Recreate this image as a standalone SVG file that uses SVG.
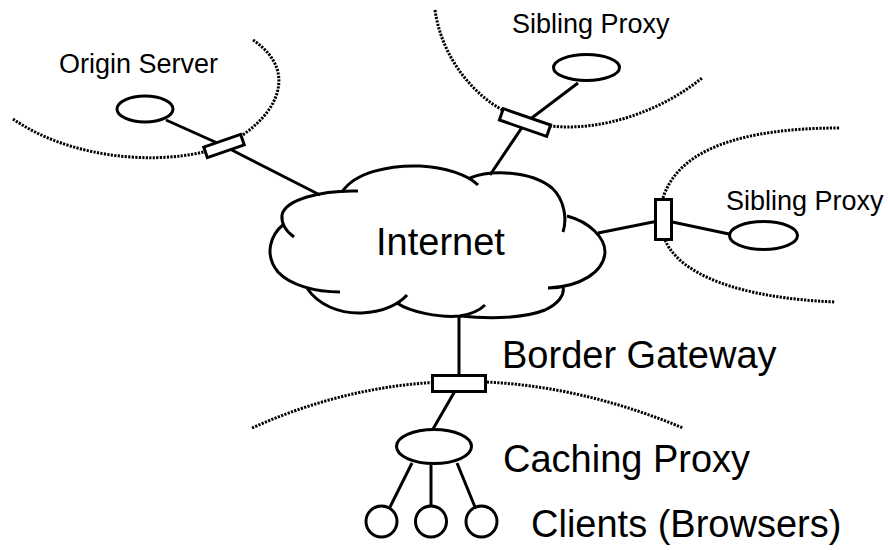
<svg xmlns="http://www.w3.org/2000/svg" width="888" height="550" viewBox="0 0 888 550">
<style>
.s{fill:none;stroke:#000;stroke-width:3;stroke-linecap:butt}
.n{fill:#fff;stroke:#000;stroke-width:3}
.d{fill:none;stroke:#000;stroke-width:3;stroke-dasharray:2.2 1.3}
.t{font-family:"Liberation Sans",Arial,sans-serif;fill:#000}
.sm{font-size:27px}
.lg{font-size:38px}
</style>
<rect width="888" height="550" fill="#fff"/>
<g id="boundaries">
<path class="d" d="M13,119 C80,165 180,165 224,145 C270,125 305,75 253,40"/>
<path class="d" d="M435,10 C442,60 478,105 525,120 C575,138 650,120 702,78"/>
<path class="d" d="M663,198 C678,150 740,128 840,128"/>
<path class="d" d="M665,240 C680,275 740,298 835,302"/>
<path class="d" d="M252,428 Q459,335 683,428"/>
</g>
<g id="connectors">
<polyline class="s" points="166,120 224,146 320,195"/>
<polyline class="s" points="578,83 525,123 490,175"/>
<polyline class="s" points="598,233 663,220 729,234"/>
<polyline class="s" points="459,317 459,384 433,429"/>
<line class="s" x1="412" y1="463" x2="390" y2="507"/>
<line class="s" x1="431" y1="465" x2="431" y2="506"/>
<line class="s" x1="457" y1="463" x2="475" y2="507"/>
</g>
<g id="internet">
<path class="s" d="M358,191 C320,190 285,200 282,215 C281,225 287,232 294,237"/>
<path class="s" d="M284,224 C270,235 264,255 278,272 C290,285 315,292 340,292"/>
<path class="s" d="M307,288 C318,305 340,314 362,313 C385,312 400,303 407,295"/>
<path class="s" d="M397,303 C410,312 440,318 460,316 C472,314 480,310 485,305"/>
<path class="s" d="M460,316 C480,318 520,320 545,310 C558,304 565,295 563,287"/>
<path class="s" d="M567,216 C590,222 605,238 605,252 C604,272 580,287 548,288"/>
<path class="s" d="M470,178 C490,170 530,170 552,188 C565,200 567,220 563,232"/>
<path class="s" d="M342,192 C355,172 390,165 420,166 C445,167 468,175 478,185"/>
<text class="t lg" x="376" y="255">Internet</text>
</g>
<g id="origin-server">
<ellipse class="n" cx="145" cy="109" rx="28" ry="13"/>
<rect class="n" x="-19.5" y="-5.5" width="39" height="11" transform="translate(224,146) rotate(-19)"/>
<text class="t sm" x="59" y="73">Origin Server</text>
</g>
<g id="sibling-proxy-top">
<ellipse class="n" cx="586.5" cy="67.5" rx="33" ry="13"/>
<rect class="n" x="-25" y="-6" width="50" height="12" transform="translate(525,122.5) rotate(19)"/>
<text class="t sm" x="512" y="33">Sibling Proxy</text>
</g>
<g id="sibling-proxy-right">
<ellipse class="n" cx="763.5" cy="235.5" rx="34" ry="14"/>
<rect class="n" x="655.5" y="199.5" width="16" height="40"/>
<text class="t sm" x="726" y="210">Sibling Proxy</text>
</g>
<g id="border-gateway">
<rect class="n" x="432.5" y="375.5" width="53" height="16"/>
<text class="t lg" x="502" y="368">Border Gateway</text>
</g>
<g id="caching-proxy">
<ellipse class="n" cx="434" cy="446.5" rx="37.5" ry="17"/>
<text class="t lg" x="503" y="472">Caching Proxy</text>
</g>
<g id="clients">
<circle class="n" cx="381.5" cy="521.5" r="15.5"/>
<circle class="n" cx="431" cy="521.5" r="15.5"/>
<circle class="n" cx="481.5" cy="521.5" r="15.5"/>
<text class="t lg" x="531" y="537">Clients (Browsers)</text>
</g>
</svg>
